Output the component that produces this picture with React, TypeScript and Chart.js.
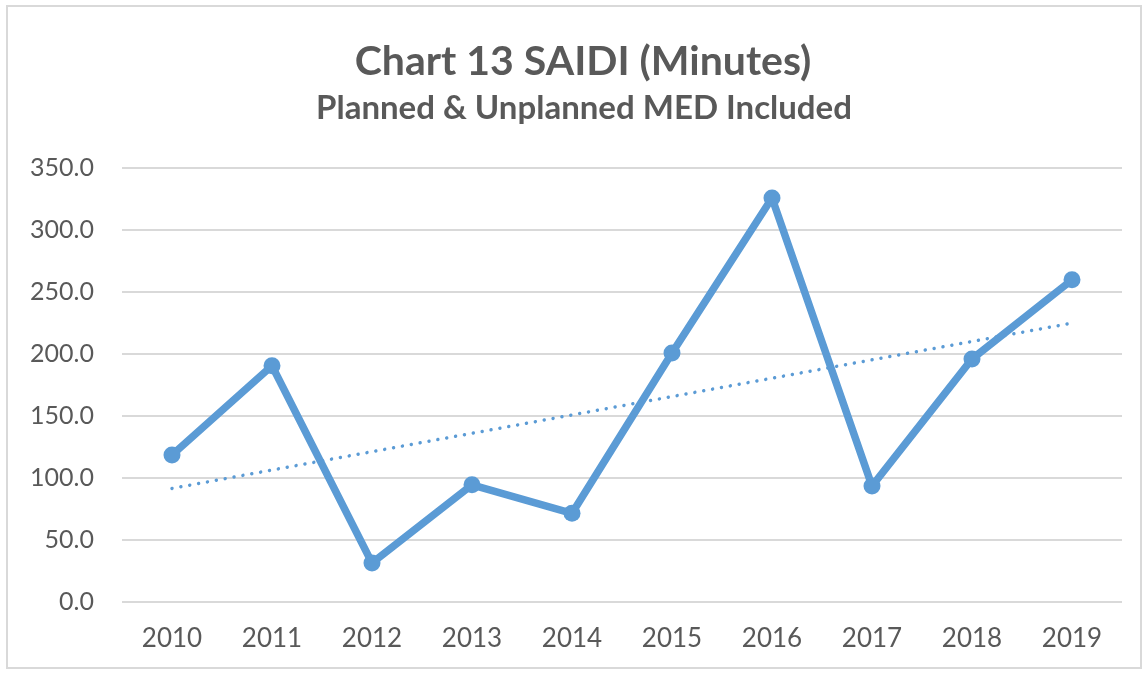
import React, { useEffect, useRef } from "react";
import { Chart, registerables } from "chart.js";

Chart.register(...registerables);

const years = ["2010", "2011", "2012", "2013", "2014", "2015", "2016", "2017", "2018", "2019"];
const saidi = [118.5, 190.5, 31.5, 94.5, 71.5, 200.8, 325.8, 93.5, 196.0, 259.8];
const trend = [91.6, null, null, null, null, null, null, null, null, 224.9];
const yTicks = { min: 0, max: 350, step: 50 };
const titleText = "Chart 13 SAIDI (Minutes)";
const subtitleText = "Planned & Unplanned MED Included";

const BLUE = "#5b9bd5";
const GREY_TEXT = "#595959";
const GRID = "#d9d9d9";
const FONT = "Lato, 'Open Sans', sans-serif";

const headingPlugin = {
  id: "heading",
  afterDraw(chart: any) {
    const ctx = chart.ctx;
    ctx.save();
    ctx.fillStyle = GREY_TEXT;
    ctx.textAlign = "center";
    ctx.textBaseline = "middle";
    ctx.font = `bold 41px ${FONT}`;
    ctx.fillText(titleText, 583, 62);
    ctx.font = `bold 33px ${FONT}`;
    ctx.fillText(subtitleText, 584, 108);
    ctx.restore();
  },
};

export default function App() {
  const ref = useRef<HTMLCanvasElement | null>(null);

  useEffect(() => {
    if (!ref.current) return;
    const chart = new Chart(ref.current, {
      type: "line",
      data: {
        labels: years,
        datasets: [
          {
            label: "SAIDI",
            data: saidi,
            borderColor: BLUE,
            backgroundColor: BLUE,
            borderWidth: 7.5,
            pointRadius: 8.5,
            pointBackgroundColor: BLUE,
            pointBorderColor: BLUE,
            pointBorderWidth: 0,
            tension: 0,
            order: 1,
          },
          {
            label: "Trend",
            data: trend,
            spanGaps: true,
            borderColor: BLUE,
            borderWidth: 3.5,
            borderDash: [0.01, 9],
            borderCapStyle: "round",
            pointRadius: 0,
            tension: 0,
            order: 2,
          },
        ],
      },
      plugins: [headingPlugin],
      options: {
        animation: false,
        responsive: false,
        devicePixelRatio: 1,
        layout: { padding: { left: 0, right: 24, top: 168, bottom: 11 } },
        plugins: {
          legend: { display: false },
          tooltip: { enabled: false },
          title: { display: false },
          subtitle: { display: false },
        },
        scales: {
          x: {
            offset: true,
            grid: { display: false, drawTicks: false },
            border: { display: false },
            ticks: {
              color: GREY_TEXT,
              font: { family: FONT, size: 26 },
              padding: 21,
              maxRotation: 0,
            },
            afterFit: (s: any) => {
              s.height = 60;
            },
          },
          y: {
            min: yTicks.min,
            max: yTicks.max,
            grid: { color: GRID, lineWidth: 2, drawTicks: false },
            border: { display: false },
            ticks: {
              stepSize: yTicks.step,
              color: GREY_TEXT,
              font: { family: FONT, size: 25 },
              padding: 28,
              callback: (v: any) => Number(v).toFixed(1),
            },
            afterFit: (s: any) => {
              s.width = 122;
            },
          },
        },
      },
    });
    return () => chart.destroy();
  }, []);

  return (
    <div style={{ position: "fixed", left: 0, top: 0, width: 1146, height: 673, background: "#fff" }}>
      <canvas ref={ref} width={1146} height={673} style={{ position: "absolute", left: 0, top: 0, width: 1146, height: 673 }} />
      <div
        style={{
          position: "absolute",
          left: 6,
          top: 5,
          width: 1136,
          height: 664,
          border: `2px solid ${GRID}`,
          boxSizing: "border-box",
          pointerEvents: "none",
        }}
      />
    </div>
  );
}
